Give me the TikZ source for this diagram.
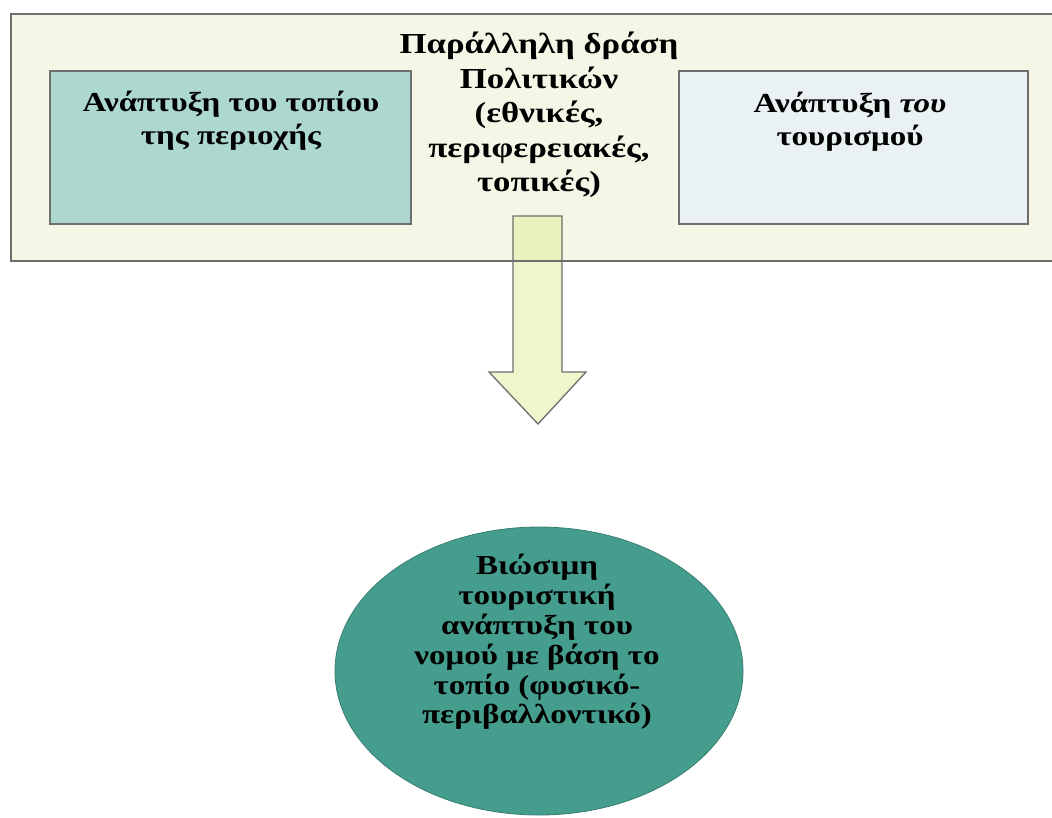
\documentclass[tikz,border=0pt]{standalone}
\usepackage{fontspec}
\setmainfont{Liberation Serif}[FakeStretch=1.2]
\usetikzlibrary{shapes.geometric}
\definecolor{outerfill}{RGB}{245,246,230}
\definecolor{landfill}{RGB}{172,216,208}
\definecolor{tourfill}{RGB}{234,241,243}
\definecolor{goalfill}{RGB}{68,157,141}
\definecolor{arrowfill}{RGB}{227,236,154}
\definecolor{edgegray}{RGB}{110,110,110}
\tikzset{
  boxstyle/.style={draw=edgegray, line width=1.6pt, inner sep=0pt},
  boxtext/.style={align=center, font=\fontsize{27.5}{33}\selectfont\bfseries, inner sep=0pt},
  midtext/.style={align=center, font=\fontsize{29}{34.5}\selectfont\bfseries, inner sep=0pt},
  goaltext/.style={align=center, font=\fontsize{27.5}{29.8}\selectfont\bfseries, inner sep=0pt},
}
\begin{document}
\begin{tikzpicture}[x=1pt,y=-1pt]
\path[use as bounding box, clip] (0,0) rectangle (1052,817);
\fill[white] (0,0) rectangle (1052,817);
% outer panel fill
\node[boxstyle, draw=none, fill=outerfill, minimum width=1049pt, minimum height=247pt] (outer) at (535.5,137.5) {};
% block arrow
\fill[arrowfill, fill opacity=0.5] (513,216) -- (562,216) -- (562,372) -- (586,372) -- (538,424) -- (489,372) -- (513,372) -- cycle;
\draw[edgegray, line width=1.3pt, line join=miter] (513,216) -- (562,216) -- (562,372) -- (586,372) -- (538,424) -- (489,372) -- (513,372) -- cycle;
% outer panel border on top
\node[boxstyle, minimum width=1049pt, minimum height=247pt] (outerborder) at (535.5,137.5) {};
% inner boxes
\node[boxstyle, fill=landfill, minimum width=361pt, minimum height=153pt] (land) at (230.5,147.5) {};
\node[boxstyle, fill=tourfill, minimum width=349pt, minimum height=153pt] (tour) at (853.5,147.5) {};
\node[boxtext] (landtxt) at (231,121) {Ανάπτυξη του τοπίου\\της περιοχής};
\node[boxtext] (tourtxt) at (850,122) {Ανάπτυξη \textit{του}\\τουρισμού};
\node[midtext] (policy) at (539,115) {Παράλληλη δράση\\Πολιτικών\\(εθνικές,\\περιφερειακές,\\τοπικές)};
% goal ellipse
\node[ellipse, draw=goalfill!80!black, line width=0.8pt, fill=goalfill, minimum width=408pt, minimum height=288pt, inner sep=0pt] (goal) at (539,671) {};
\node[goaltext] (goaltxt) at (537,642) {Βιώσιμη\\τουριστική\\ανάπτυξη του\\νομού με βάση το\\τοπίο (φυσικό-\\περιβαλλοντικό)};
\end{tikzpicture}
\end{document}
